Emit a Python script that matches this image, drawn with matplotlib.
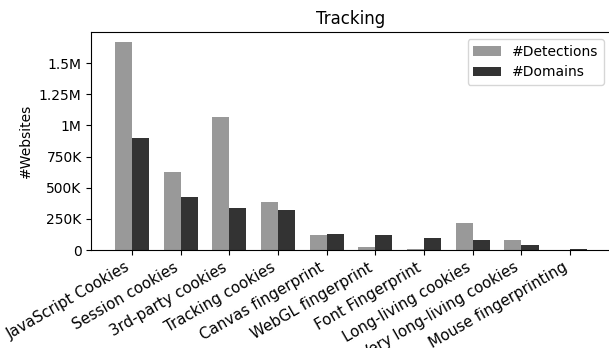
import matplotlib.pyplot as plt
import numpy as np
from matplotlib.ticker import FuncFormatter

plt.rcParams["figure.dpi"] = 100
plt.rcParams["figure.facecolor"] = "white"

# data
categories = ["JavaScript Cookies", "Session cookies", "3rd-party cookies",
              "Tracking cookies", "Canvas fingerprint", "WebGL fingerprint",
              "Font Fingerprint", "Long-living cookies",
              "Very long-living cookies", "Mouse fingerprinting"]
detections = [1666000, 623000, 1070000, 388000, 123000, 21000, 10000, 217000, 80000, 1500]
domains = [898000, 428000, 334000, 318000, 131000, 123000, 96000, 80000, 38000, 8000]


def fmt(v, pos):
    if v == 0:
        return "0"
    if v >= 1e6:
        return "{:g}M".format(v / 1e6)
    return "{:g}K".format(v / 1e3)


fig = plt.figure(figsize=(6.09, 3.48))
ax = fig.add_axes([0.150, 0.2816, 0.853, 0.6264])

x = np.arange(len(categories))
w = 0.35
ax.bar(x - w / 2, detections, w, color="#999999", label="#Detections")
ax.bar(x + w / 2, domains, w, color="#333333", label="#Domains")

ax.set_yticks([0, 250000, 500000, 750000, 1000000, 1250000, 1500000])
ax.yaxis.set_major_formatter(FuncFormatter(fmt))
ax.set_xticks(x)
ax.set_xticklabels(categories, rotation=30, ha="right", fontsize=10.8)
ax.set_ylabel("#Websites")
ax.set_title("Tracking")
ax.legend(loc="upper right")

plt.savefig("out.png")
